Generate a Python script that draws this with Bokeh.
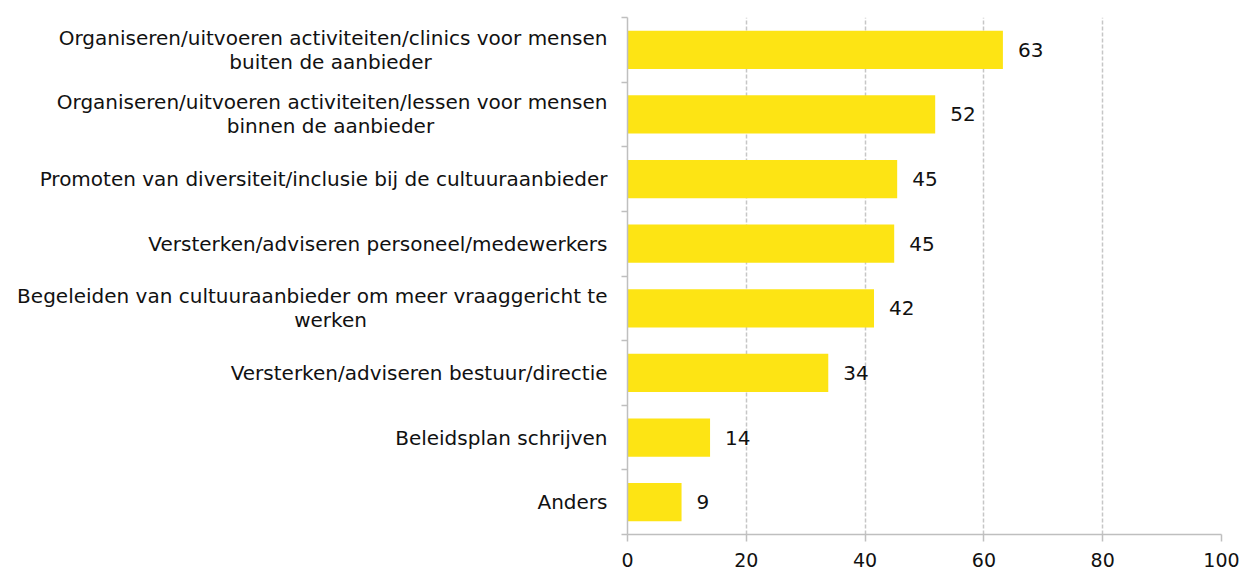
from bokeh.plotting import figure
from bokeh.models import FixedTicker, ColumnDataSource, Range1d
from bokeh.layouts import row
from bokeh.embed import file_html
from bokeh.resources import INLINE
from bokeh.core.properties import value

categories = [
    "Organiseren/uitvoeren activiteiten/clinics voor mensen\nbuiten de aanbieder",
    "Organiseren/uitvoeren activiteiten/lessen voor mensen\nbinnen de aanbieder",
    "Promoten van diversiteit/inclusie bij de cultuuraanbieder",
    "Versterken/adviseren personeel/medewerkers",
    "Begeleiden van cultuuraanbieder om meer vraaggericht te\nwerken",
    "Versterken/adviseren bestuur/directie",
    "Beleidsplan schrijven",
    "Anders",
]
values = [63.2, 51.8, 45.4, 44.9, 41.5, 33.8, 13.9, 9.1]
labels = ["63", "52", "45", "45", "42", "34", "14", "9"]
x_ticks = [0, 20, 40, 60, 80, 100]

n = len(categories)
ypos = [n - i - 0.5 for i in range(n)]

FONT = "DejaVu Sans"
TXT = "#111111"
GREY = "#bfbfbf"
H = 570
TOP, BOTTOM = 17, 36
LEFT_W = 619

yr = Range1d(0, n)

# ---- label panel (category texts) ----
lp = figure(width=LEFT_W, height=H, x_range=(0, LEFT_W), y_range=yr,
            output_backend="svg", toolbar_location=None,
            min_border_left=0, min_border_right=0, min_border_top=TOP, min_border_bottom=BOTTOM)
lp.axis.visible = False
lp.grid.visible = False
lp.outline_line_color = None

RIGHT_EDGE = 607   # right end of first lines
CENTER2 = 330      # centre of second lines
GAP = 12
one = dict(x=[], y=[], t=[])
first = dict(x=[], y=[], t=[])
second = dict(x=[], y=[], t=[])
for yc, cat in zip(ypos, categories):
    lines = cat.split("\n")
    if len(lines) == 1:
        one["x"].append(RIGHT_EDGE); one["y"].append(yc); one["t"].append(lines[0])
    else:
        first["x"].append(RIGHT_EDGE); first["y"].append(yc); first["t"].append(lines[0])
        second["x"].append(CENTER2); second["y"].append(yc); second["t"].append(lines[1])

common = dict(text_font=value(FONT), text_font_size="20px", text_color=TXT, text_baseline="middle")
lp.text(x="x", y="y", text="t", source=ColumnDataSource(one), text_align="right", **common)
lp.text(x="x", y="y", text="t", source=ColumnDataSource(first), text_align="right", y_offset=-GAP, **common)
lp.text(x="x", y="y", text="t", source=ColumnDataSource(second), text_align="center", y_offset=GAP, **common)

# ---- chart ----
p = figure(width=1240 - LEFT_W, height=H, x_range=(0, 100), y_range=yr,
           output_backend="svg", toolbar_location=None,
           min_border_left=8, min_border_right=19, min_border_top=TOP, min_border_bottom=BOTTOM)
p.outline_line_color = None
p.background_fill_color = "white"

src = ColumnDataSource(dict(y=ypos, v=values, lab=labels))
p.hbar(y="y", right="v", left=0, height=0.59, source=src, color="#FDE414", line_color=None)
p.text(x="v", y="y", text="lab", source=src, x_offset=15, text_baseline="middle",
       text_align="left", text_font=value(FONT), text_font_size="20px", text_color=TXT)

yax = p.yaxis[0]
yax.ticker = FixedTicker(ticks=[], minor_ticks=list(range(n + 1)))
yax.major_label_standoff = 0
yax.major_tick_line_color = None
yax.major_tick_out = 0
yax.major_tick_in = 0
yax.minor_tick_out = 6
yax.minor_tick_in = 0
yax.minor_tick_line_color = GREY
yax.minor_tick_line_width = 1.5
yax.axis_line_color = GREY
yax.axis_line_width = 1.5

xax = p.xaxis[0]
xax.ticker = FixedTicker(ticks=x_ticks)
xax.minor_tick_line_color = None
xax.major_tick_out = 7
xax.major_tick_in = 0
xax.major_tick_line_color = GREY
xax.major_tick_line_width = 1.5
xax.axis_line_color = GREY
xax.axis_line_width = 1.5
xax.major_label_standoff = 11
xax.major_label_text_font = FONT
xax.major_label_text_font_size = "19px"
xax.major_label_text_color = TXT

p.ygrid.grid_line_color = None
p.xgrid.ticker = FixedTicker(ticks=x_ticks[1:])
p.xgrid.grid_line_color = "#c6c6c6"
p.xgrid.grid_line_dash = "4 2"
p.xgrid.grid_line_width = 1.5

layout = row(lp, p, spacing=0)
open("out.html", "w").write(file_html(layout, INLINE))
